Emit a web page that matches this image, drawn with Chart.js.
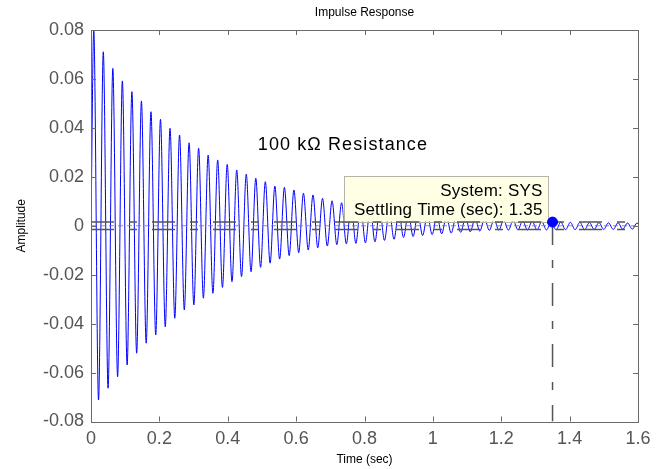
<!DOCTYPE html>
<html>
<head>
<meta charset="utf-8">
<script src="https://cdn.jsdelivr.net/npm/chart.js@4.4.0/dist/chart.umd.min.js"></script>
<style>
html, body { margin: 0; padding: 0; background: #fff; }
#wrap { width: 664px; height: 469px; }
</style>
</head>
<body>
<div id="wrap"><canvas id="impulseChart" width="664" height="469"></canvas></div>
<script>
// Tick labels
const xTicks = [0, 0.2, 0.4, 0.6, 0.8, 1, 1.2, 1.4, 1.6];
const yTicks = [-0.08, -0.06, -0.04, -0.02, 0, 0.02, 0.04, 0.06, 0.08];

// Response: one peak and one trough per cycle
const firstPeakTime = 0.0081;
const cyclePeriod = 0.02788;
const peakValues = [
    0.0800, 0.0711, 0.0643, 0.0592, 0.0548, 0.0510, 0.0466, 0.0435, 0.0398, 0.0371,
    0.0339, 0.0317, 0.0289, 0.0269, 0.0251, 0.0228, 0.0211, 0.0194, 0.0180, 0.0162,
    0.0157, 0.0146, 0.0133, 0.0126, 0.0112, 0.0102, 0.0094, 0.0087, 0.0080, 0.0074,
    0.0068, 0.0063, 0.0058, 0.0053, 0.0049, 0.0045, 0.0042, 0.0038, 0.0035, 0.0033,
    0.0030, 0.0028, 0.0026, 0.0024, 0.0022, 0.0020, 0.0018, 0.0017, 0.0016, 0.0015,
    0.0014, 0.0014, 0.0013, 0.0013, 0.0012, 0.0012, 0.0011, 0.0011
];
const troughValues = [
    -0.0712, -0.0664, -0.0617, -0.0569, -0.0521, -0.0480, -0.0446, -0.0413, -0.0378, -0.0344,
    -0.0324, -0.0296, -0.0276, -0.0252, -0.0229, -0.0208, -0.0188, -0.0170, -0.0153, -0.0136,
    -0.0122, -0.0110, -0.0099, -0.0090, -0.0083, -0.0077, -0.0074, -0.0072, -0.0070, -0.0066,
    -0.0060, -0.0055, -0.0048, -0.0044, -0.0040, -0.0036, -0.0033, -0.0030, -0.0027, -0.0025,
    -0.0022, -0.0019, -0.0018, -0.0018, -0.0017, -0.0017, -0.0017, -0.0017, -0.0017, -0.0016,
    -0.0016, -0.0016, -0.0015, -0.0015, -0.0015, -0.0014, -0.0014, -0.0013
];

// Settling time marker
const settlingTime = 1.35;
const settlingValue = 0.0015;
const settlingBand = [0.0015, -0.0015];
const infoLines = ['System: SYS', 'Settling Time (sec): 1.35'];

// Note on the plot
const noteText = '100 k\u03A9 Resistance';
const notePos = { x: 0.488, y: 0.033 };

const FONT = "'Liberation Sans', Arial, sans-serif";
const bandDash = [23, 15, 8, 15];

function buildResponse() {
    const pts = [{ x: 0, y: 0 }];
    for (let k = 0; k < peakValues.length; k++) {
        const tp = firstPeakTime + k * cyclePeriod;
        pts.push({ x: tp, y: peakValues[k] });
        if (k < troughValues.length) {
            pts.push({ x: tp + cyclePeriod / 2, y: troughValues[k] });
        }
    }
    return pts;
}

function fmt(v) {
    return String(parseFloat(v.toFixed(2)));
}

// Info box drawn right after the response so the marker lines stay on top
const infoBox = {
    id: 'infoBox',
    afterDatasetDraw(chart, args) {
        if (args.index !== 5) return;
        const { ctx, scales: { x, y } } = chart;
        const px = x.getPixelForValue(settlingTime);
        const py = y.getPixelForValue(settlingValue);
        const right = px - 5;
        const bottom = py - 0.5;
        const w = 204, h = 46;
        ctx.save();
        ctx.fillStyle = '#ffffe6';
        ctx.strokeStyle = '#b4b4a8';
        ctx.lineWidth = 1;
        ctx.fillRect(right - w, bottom - h, w, h);
        ctx.strokeRect(Math.round(right - w) + 0.5, Math.round(bottom - h) + 0.5, w, h);
        ctx.fillStyle = '#000';
        ctx.font = '17px ' + FONT;
        ctx.letterSpacing = '0.2px';
        ctx.textAlign = 'right';
        ctx.textBaseline = 'alphabetic';
        ctx.fillText(infoLines[0], right - 5, bottom - 26);
        ctx.fillText(infoLines[1], right - 5, bottom - 7);
        ctx.restore();
    }
};

// Box frame, inward ticks, titles and the note
const frameAndText = {
    id: 'frameAndText',
    afterDraw(chart) {
        const { ctx, chartArea: a, scales: { x, y } } = chart;
        ctx.save();
        ctx.strokeStyle = '#6a6a6a';
        ctx.lineWidth = 1;
        ctx.beginPath();
        x.ticks.forEach(t => {
            const px = Math.round(x.getPixelForValue(t.value)) + 0.5;
            ctx.moveTo(px, a.bottom); ctx.lineTo(px, a.bottom - 5);
            ctx.moveTo(px, a.top); ctx.lineTo(px, a.top + 5);
        });
        y.ticks.forEach(t => {
            const py = Math.round(y.getPixelForValue(t.value)) + 0.5;
            ctx.moveTo(a.left, py); ctx.lineTo(a.left + 5, py);
            ctx.moveTo(a.right, py); ctx.lineTo(a.right - 5, py);
        });
        ctx.stroke();
        ctx.strokeRect(Math.round(a.left) + 0.5, Math.round(a.top) + 0.5,
            Math.round(a.right - a.left), Math.round(a.bottom - a.top));

        ctx.fillStyle = '#000';
        ctx.font = '12px ' + FONT;
        ctx.textAlign = 'center';
        ctx.textBaseline = 'middle';
        ctx.fillText('Impulse Response', (a.left + a.right) / 2, 13);

        ctx.font = '18px ' + FONT;
        ctx.letterSpacing = '1.1px';
        ctx.textAlign = 'left';
        ctx.fillText(noteText, x.getPixelForValue(notePos.x), y.getPixelForValue(notePos.y));
        ctx.restore();
    }
};

function lineSet(points, color, width, dash) {
    return {
        data: points,
        borderColor: color,
        borderWidth: width,
        borderDash: dash,
        pointRadius: 0,
        tension: 0,
        fill: false
    };
}

const response = lineSet(buildResponse(), '#0000ff', 1, []);
response.cubicInterpolationMode = 'monotone';

const chart = new Chart(document.getElementById('impulseChart'), {
    type: 'line',
    data: {
        datasets: [
            {
                data: [{ x: settlingTime, y: settlingValue }],
                showLine: false,
                pointRadius: 5,
                pointBackgroundColor: '#0000ff',
                pointBorderColor: '#0000ff',
                pointBorderWidth: 1
            },
            lineSet([{ x: settlingTime, y: settlingValue }, { x: settlingTime, y: yTicks[0] }], '#555', 1.5, bandDash),
            lineSet([{ x: xTicks[0], y: settlingBand[0] }, { x: xTicks[8], y: settlingBand[0] }], '#555', 1.5, bandDash),
            lineSet([{ x: xTicks[0], y: settlingBand[1] }, { x: xTicks[8], y: settlingBand[1] }], '#555', 1.5, bandDash),
            lineSet([{ x: xTicks[0], y: 0 }, { x: xTicks[8], y: 0 }], '#777', 0.8, [5, 4]),
            response
        ]
    },
    options: {
        responsive: false,
        animation: false,
        devicePixelRatio: 1,
        layout: { padding: { left: 0, right: 26, top: 30, bottom: 0 } },
        plugins: {
            legend: { display: false },
            tooltip: { enabled: false },
            title: { display: false }
        },
        scales: {
            x: {
                type: 'linear',
                min: xTicks[0],
                max: xTicks[xTicks.length - 1],
                afterBuildTicks: s => { s.ticks = xTicks.map(v => ({ value: v })); },
                afterFit: s => { s.height = 47.5; },
                grid: { display: false, drawTicks: false },
                border: { display: false },
                ticks: {
                    padding: 7,
                    maxRotation: 0,
                    autoSkip: false,
                    color: '#555',
                    font: { family: FONT, size: 18 },
                    callback: v => fmt(v)
                },
                title: {
                    display: true,
                    text: 'Time (sec)',
                    color: '#000',
                    font: { family: FONT, size: 12 },
                    padding: { top: 0, bottom: 2 }
                }
            },
            y: {
                type: 'linear',
                min: yTicks[0],
                max: yTicks[yTicks.length - 1],
                afterBuildTicks: s => { s.ticks = yTicks.map(v => ({ value: v })); },
                afterFit: s => { s.width = 91; },
                grid: { display: false, drawTicks: false },
                border: { display: false },
                ticks: {
                    padding: 7,
                    autoSkip: false,
                    color: '#555',
                    font: { family: FONT, size: 18 },
                    callback: v => fmt(v)
                },
                title: {
                    display: true,
                    text: 'Amplitude',
                    color: '#000',
                    font: { family: FONT, size: 12 },
                    padding: { top: 14, bottom: 0 }
                }
            }
        }
    },
    plugins: [infoBox, frameAndText]
});
</script>
</body>
</html>
